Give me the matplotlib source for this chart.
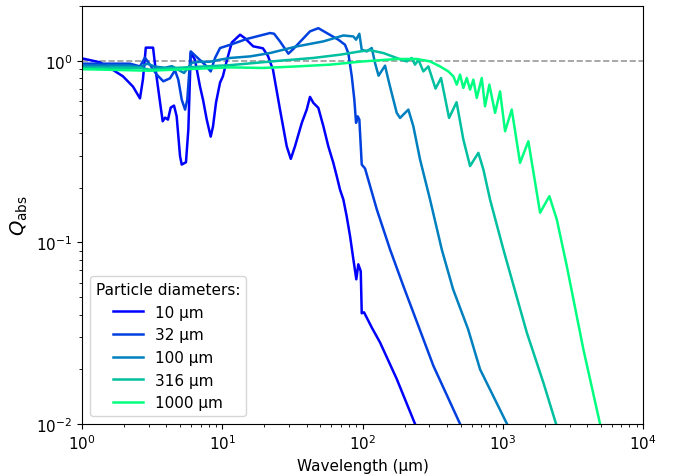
import numpy as np
import matplotlib
matplotlib.use("Agg")
import matplotlib.pyplot as plt

# absorption efficiency, wavelength in um
wl_10 = [1.0, 1.34, 1.66, 1.96, 2.31, 2.59, 2.72, 2.85, 3.21, 3.37, 3.60, 3.76, 3.91, 4.10, 4.29,
         4.53, 4.73, 5.00, 5.14, 5.51, 5.73, 5.96, 6.39, 6.94, 7.29, 7.75, 8.27, 8.59, 9.03, 9.64,
         10.1, 10.8, 11.7, 13.4, 14.5, 16.6, 19.5, 21.2, 23.0, 25.8, 28.8, 30.8, 33.0, 36.9, 40.0,
         42.2, 44.6, 48.4, 52.6, 57.0, 61.9, 65.5, 69.1, 73.0, 77.1, 81.5, 86.0, 90.3, 93.3, 97.1,
         98.7, 102.5, 116.3, 133.3, 175.3, 236.8, 282]
q_10 = [1.03, 0.98, 0.89, 0.82, 0.72, 0.62, 0.79, 1.18, 1.18, 0.86, 0.59, 0.464, 0.486, 0.474, 0.552,
        0.566, 0.494, 0.298, 0.268, 0.276, 0.418, 1.11, 1.01, 0.72, 0.61, 0.474, 0.382, 0.435, 0.59, 0.757,
        0.82, 1.01, 1.26, 1.39, 1.33, 1.20, 1.17, 1.06, 0.89, 0.538, 0.338, 0.288, 0.338, 0.455, 0.538,
        0.632, 0.586, 0.550, 0.435, 0.338, 0.274, 0.231, 0.195, 0.172, 0.139, 0.108, 0.0807, 0.0626, 0.0757, 0.0693,
        0.0407, 0.0412, 0.034, 0.0281, 0.0177, 0.0100, 0.0072]

wl_32 = [1.0, 2.20, 2.59, 2.81, 3.05, 3.41, 3.80, 4.24, 4.60, 4.86, 5.14, 5.43, 5.63, 5.96, 6.57,
         7.54, 8.27, 8.88, 9.64, 11.4, 14.9, 21.9, 23.4, 25.8, 29.6, 32.1, 42.2, 48.4, 55.6, 67.2,
         75.0, 79.2, 83.8, 87.4, 89.9, 92.4, 94.9, 98.7, 104.2, 126.3, 157, 195.4, 250, 320, 496, 584]
q_32 = [0.963, 0.963, 0.93, 1.04, 0.95, 0.838, 0.77, 0.80, 0.885, 0.786, 0.61, 0.538, 0.61, 1.125, 1.048,
        0.95, 0.873, 1.035, 1.174, 1.224, 1.316, 1.42, 1.408, 1.276, 1.093, 1.16, 1.45, 1.51, 1.42, 1.305,
        1.224, 1.10, 0.82, 0.61, 0.455, 0.494, 0.474, 0.268, 0.255, 0.152, 0.0915, 0.0575, 0.0347, 0.0209, 0.01, 0.0078]

wl_100 = [1.0, 2.20, 2.59, 2.91, 3.32, 3.91, 4.38, 4.84, 5.34, 5.70, 6.09, 6.94, 8.18, 9.64, 11.36,
          15.8, 21.9, 33.9, 52.5, 73.0, 86.0, 89.9, 94.9, 98.7, 107.1, 116.3, 122.8, 130.1, 144.7, 154.5,
          175.3, 185.1, 212.1, 230.2, 257.0, 302.9, 367.0, 442, 565.3, 688.3, 1072, 1243]
q_100 = [0.939, 0.939, 0.921, 0.963, 0.927, 0.915, 0.933, 0.892, 0.856, 0.915, 0.975, 0.987, 0.987, 1.013, 1.035,
         1.056, 1.102, 1.198, 1.277, 1.377, 1.36, 1.305, 1.407, 1.149, 1.125, 1.174, 0.971, 0.827, 0.939, 0.757,
         0.516, 0.484, 0.538, 0.436, 0.286, 0.172, 0.0915, 0.0552, 0.0333, 0.0200, 0.01, 0.00776]

wl_316 = [1.0, 2.59, 3.05, 3.60, 6.94, 11.36, 25.8, 44.4, 69.1, 96.0, 113.1, 140.7, 175.3, 188.2, 206.7,
          224.3, 236.7, 250.0, 271.3, 294.6, 331.5, 362.8, 413.9, 468, 523.3, 584.2, 669.4, 726.6, 811.1, 1009,
          1482, 1946, 2398, 2602]
q_316 = [0.915, 0.915, 0.892, 0.904, 0.927, 0.945, 1.0, 1.035, 1.079, 1.125, 1.142, 1.102, 1.035, 1.013, 0.991,
         1.035, 0.951, 1.013, 0.873, 0.930, 0.702, 0.803, 0.484, 0.591, 0.368, 0.263, 0.311, 0.252, 0.172, 0.0915,
         0.0319, 0.0169, 0.01, 0.00776]

wl_1000 = [1.0, 3.05, 11.36, 19.5, 33.9, 58.6, 100.8, 133.3, 175.3, 243.5, 302.9, 356.9, 409.1, 444.1, 469.6,
           495.6, 523.3, 553.4, 584.2, 616.6, 652.1, 707.8, 747.1, 801.8, 880.6, 955.9, 1038, 1158, 1327, 1521,
           1844, 2148, 2425, 2858, 3752, 4936, 5358]
q_1000 = [0.898, 0.881, 0.919, 0.912, 0.930, 0.951, 0.991, 1.006, 1.022, 1.022, 0.991, 0.930, 0.873, 0.820, 0.738,
          0.838, 0.708, 0.803, 0.693, 0.786, 0.624, 0.803, 0.561, 0.738, 0.516, 0.678, 0.409, 0.538, 0.274, 0.360,
          0.1456, 0.1796, 0.1338, 0.0741, 0.0258, 0.01, 0.00776]

labels = ["10 µm", "32 µm", "100 µm", "316 µm", "1000 µm"]
series = [(wl_10, q_10), (wl_32, q_32), (wl_100, q_100), (wl_316, q_316), (wl_1000, q_1000)]
colors = plt.cm.winter(np.linspace(0, 1, len(series)))

plt.rcParams["font.size"] = 11

fig = plt.figure(figsize=(6.76, 4.77), dpi=100)
ax = fig.add_axes([0.1213, 0.109, 0.83, 0.8763])

ax.axhline(1.0, color="gray", ls="--", lw=1.2, alpha=0.8)
for (wl, q), c, lab in zip(series, colors, labels):
    ax.plot(wl, q, color=c, lw=1.8, label=lab)

ax.set_xscale("log")
ax.set_yscale("log")
ax.set_xlim(1, 1e4)
ax.set_ylim(1e-2, 2)
ax.set_xlabel("Wavelength (µm)")
ax.set_ylabel(r"$Q_\mathrm{abs}$", fontsize=14)
ax.legend(loc="lower left", title="Particle diameters:", title_fontsize=11)

fig.savefig("out.png", dpi=100)
